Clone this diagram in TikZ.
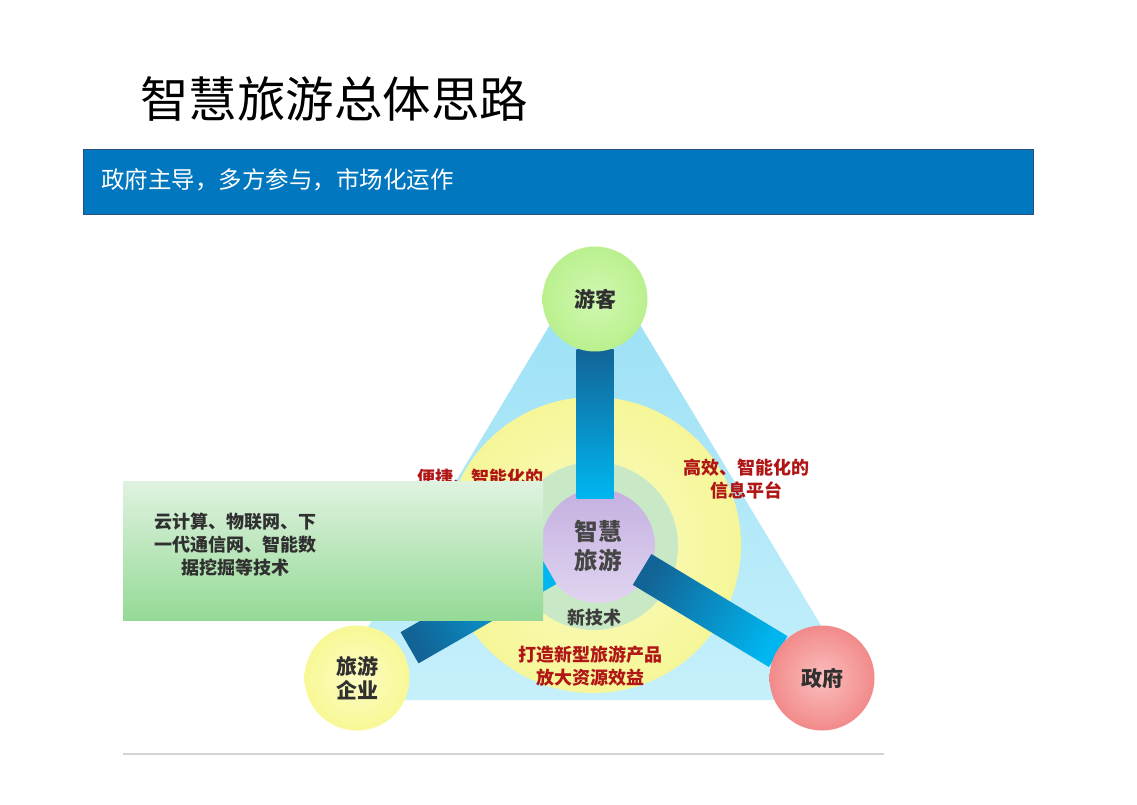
\documentclass[tikz,border=0pt]{standalone}
\usepackage{fontspec}
\newfontfamily\cjk{Noto Sans CJK SC}
\usetikzlibrary{calc}
\definecolor{bandblue}{RGB}{0,119,190}
\definecolor{bandedge}{RGB}{40,80,120}
\definecolor{bardark}{RGB}{18,100,150}
\definecolor{barcyan}{RGB}{0,182,240}
\definecolor{redtxt}{RGB}{176,22,22}
\definecolor{darktxt}{RGB}{48,48,48}
\tikzset{
  disc/.style={circle, inner sep=0pt, shading=radial},
  outer/.style={disc, minimum size=105pt, text=darktxt, align=center,
    font=\cjk\bfseries\fontsize{21}{24}\selectfont},
  redlabel/.style={text=redtxt, align=center, inner sep=0pt,
    font=\cjk\bfseries\fontsize{18}{23}\selectfont},
  barfill/.style={top color=bardark, bottom color=barcyan},
}
\begin{document}
\begin{tikzpicture}[x=1pt,y=-1pt]
\useasboundingbox (0,0) rectangle (1137,804);
\fill[white] (0,0) rectangle (1137,804);

% title
\node[anchor=west, inner sep=0pt, font=\cjk\fontsize{48.5}{52}\selectfont] (title) at (140,99) {智慧旅游总体思路};

% blue band
\node[draw=bandedge, line width=0.8pt, fill=bandblue, anchor=north west, inner sep=0pt,
  minimum width=950pt, minimum height=65pt] (band) at (83,149) {};
\node[anchor=west, inner sep=0pt, text=white, font=\cjk\fontsize{23.5}{26}\selectfont] (bandtext) at (101,180) {政府主导，多方参与，市场化运作};

% triangle
\shade[top color={rgb,255:red,150;green,222;blue,245}, bottom color={rgb,255:red,198;green,240;blue,251}]
  (595,250) -- (324,700) -- (866,700) -- cycle;

% yellow disc, green ring, hub
\node[disc, minimum size=296pt, inner color={rgb,255:red,251;green,251;blue,196}, outer color={rgb,255:red,246;green,246;blue,152}] (ring1) at (593,545) {};
\node[circle, inner sep=0pt, minimum size=168pt, fill={rgb,255:red,200;green,232;blue,198}] (ring2) at (594,546) {};
\node[circle, inner sep=0pt, minimum size=114pt, top color={rgb,255:red,196;green,176;blue,224}, bottom color={rgb,255:red,224;green,212;blue,240}] (hub) at (598,546) {};

% red labels
\node[redlabel] (lblA) at (746,479) {高效、智能化的\\信息平台};
\node[redlabel] (lblB) at (590,666) {打造新型旅游产品\\放大资源效益};
\node[redlabel] (lblC) at (480,478) {便捷、智能化的};

% outer node positions
\coordinate (barc) at (595,546);
\coordinate (barc2) at (595,541);
\coordinate (touristc) at (595,299);
\coordinate (govc) at (822,678);
\coordinate (entc) at (357,678);

% bars
\coordinate (tA) at ($(barc)!48pt!(touristc)$);
\coordinate (tB) at ($(barc)!197pt!(touristc)$);
\shade[barfill] ($(tA)!18.5pt!90:(tB)$) -- ($(tB)!18.5pt!-90:(tA)$) -- ($(tB)!18.5pt!90:(tA)$) -- ($(tA)!18.5pt!-90:(tB)$) -- cycle;

\coordinate (gA) at ($(barc2)!55pt!(govc)$);
\coordinate (gB) at ($(barc2)!214pt!(govc)$);
\shade[barfill, shading angle=60] ($(gA)!18pt!90:(gB)$) -- ($(gB)!18pt!-90:(gA)$) -- ($(gB)!18pt!90:(gA)$) -- ($(gA)!18pt!-90:(gB)$) -- cycle;

\coordinate (eA) at ($(barc2)!55pt!(entc)$);
\coordinate (eB) at ($(barc2)!214pt!(entc)$);
\shade[barfill, shading angle=120] ($(eA)!18pt!90:(eB)$) -- ($(eB)!18pt!-90:(eA)$) -- ($(eB)!18pt!90:(eA)$) -- ($(eA)!18pt!-90:(eB)$) -- cycle;

% hub text
\node[align=center, inner sep=0pt, text={rgb,255:red,70;green,70;blue,70}, font=\cjk\bfseries\fontsize{23.5}{29}\selectfont] (hubtext) at (hub) {智慧\\旅游};
\node[inner sep=0pt, text={rgb,255:red,60;green,60;blue,60}, font=\cjk\bfseries\fontsize{18}{20}\selectfont] (newtech) at (594,618) {新技术};

% outer circles
\node[outer, inner color={rgb,255:red,208;green,248;blue,178}, outer color={rgb,255:red,186;green,240;blue,142}] (tourist) at (touristc) {游客};
\node[outer, inner color={rgb,255:red,251;green,190;blue,190}, outer color={rgb,255:red,242;green,138;blue,138}] (gov) at (govc) {政府};
\node[outer, inner color={rgb,255:red,252;green,252;blue,196}, outer color={rgb,255:red,248;green,248;blue,150}] (ent) at (entc) {旅游\\企业};

% green tech box
\node[anchor=north west, inner sep=0pt, minimum width=420pt, minimum height=139pt,
  top color={rgb,255:red,224;green,242;blue,224}, bottom color={rgb,255:red,148;green,218;blue,150}] (techbox) at (123,481) {};
\node[align=center, inner sep=0pt, text=darktxt, font=\cjk\bfseries\fontsize{18}{23}\selectfont] (techtext) at (235,545) {云计算、物联网、下\\一代通信网、智能数\\据挖掘等技术};

% bottom rule
\coordinate (ruleL) at (123,754);
\coordinate (ruleR) at (884,754);
\draw[line width=2pt, color={rgb,255:red,212;green,212;blue,212}] (ruleL) -- (ruleR);
\end{tikzpicture}
\end{document}
